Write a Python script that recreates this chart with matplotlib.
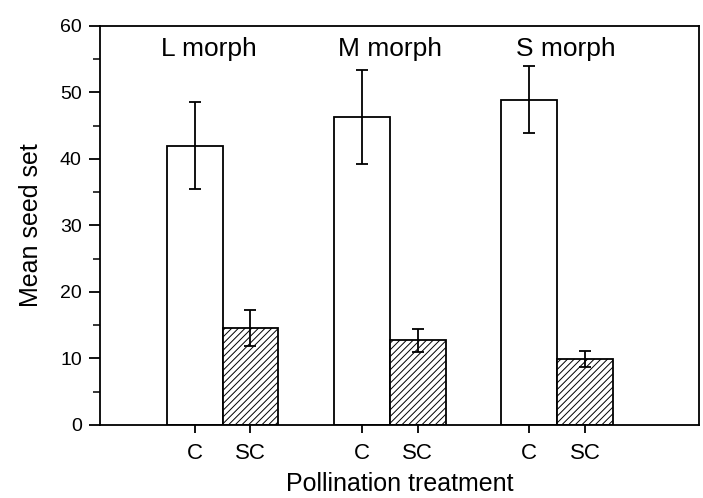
import matplotlib
matplotlib.use("Agg")
import matplotlib.pyplot as plt
import numpy as np
from matplotlib.ticker import MultipleLocator

# Data
morphs = ["L morph", "M morph", "S morph"]
treatments = ["C", "SC"]
c_means = [42.0, 46.3, 48.9]
c_errs = [6.6, 7.1, 5.0]
sc_means = [14.5, 12.7, 9.9]
sc_errs = [2.7, 1.7, 1.2]

plt.rcParams['font.family'] = ['Liberation Sans', 'DejaVu Sans']
plt.rcParams['hatch.linewidth'] = 0.7
plt.rcParams['hatch.color'] = '#555555'

fig = plt.figure(figsize=(7.03, 4.98), dpi=100)
ax = fig.add_axes([0.142, 0.147, 0.853, 0.801])

centers = np.arange(len(morphs)) * 3.0
width = 1.0
c_x = centers - 0.5
sc_x = centers + 0.5

ax.bar(c_x, c_means, width, color='white', edgecolor='black', linewidth=1.3, zorder=2)
ax.bar(sc_x, sc_means, width, color='white', edgecolor='black', linewidth=1.3,
       hatch='/////', zorder=2)
ax.errorbar(c_x, c_means, yerr=c_errs, fmt='none', ecolor='black', elinewidth=1.3,
            capsize=4, capthick=1.3, zorder=3)
ax.errorbar(sc_x, sc_means, yerr=sc_errs, fmt='none', ecolor='black', elinewidth=1.3,
            capsize=4, capthick=1.3, zorder=3)

# morph titles inside the plot
title_shift = [-0.25, 0.0, 0.15]
for cx, dx, name in zip(centers, title_shift, morphs):
    ax.text(cx + dx, 56.5, name, ha='center', va='center', fontsize=19)

ax.set_xlim(-2.2, 8.55)
ax.set_ylim(0, 60)
ax.set_xticks(np.concatenate([[a, b] for a, b in zip(c_x, sc_x)]))
ax.set_xticklabels(treatments * len(morphs))
ax.yaxis.set_major_locator(MultipleLocator(10))
ax.yaxis.set_minor_locator(MultipleLocator(5))

ax.tick_params(axis='x', direction='out', length=6, width=1.3, labelsize=16, pad=7)
ax.tick_params(axis='y', which='major', direction='out', length=8, width=1.3,
               labelsize=14, pad=5)
ax.tick_params(axis='y', which='minor', direction='out', length=5, width=1.1)

for sp in ax.spines.values():
    sp.set_linewidth(1.3)

ax.set_ylabel("Mean seed set", fontsize=18, labelpad=12)
ax.set_xlabel("Pollination treatment", fontsize=18, labelpad=6)

fig.savefig("out.png", dpi=100)
